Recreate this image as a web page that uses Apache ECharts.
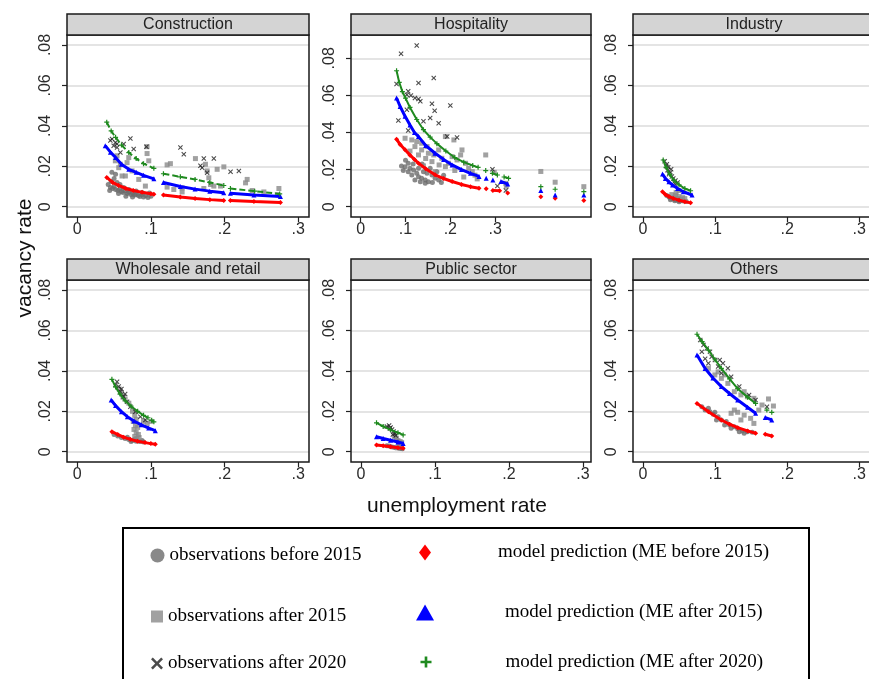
<!DOCTYPE html>
<html><head><meta charset="utf-8">
<script src="https://cdn.jsdelivr.net/npm/echarts@6.0.0/dist/echarts.min.js"></script>
<style>html,body{margin:0;padding:0;background:#fff}#chart{width:869px;height:679px}</style>
</head><body><div id="chart"></div>
<script>
// ---------------- DATA ----------------
const panelTitles = ['Construction', 'Hospitality', 'Industry', 'Wholesale and retail', 'Public sector', 'Others'];
const seriesNames = ['observations before 2015', 'observations after 2015', 'observations after 2020',
  'model prediction (ME before 2015)', 'model prediction (ME after 2015)', 'model prediction (ME after 2020)'];
const xTickValues = [0, 0.1, 0.2, 0.3];
const yTickValues = [0, 0.02, 0.04, 0.06, 0.08];
const xAxisTitle = 'unemployment rate';
const yAxisTitle = 'vacancy rate';

// Construction
const constrObsBefore2015 = [[0.042,0.0110],[0.045,0.0095],[0.048,0.0090],[0.050,0.0100],[0.052,0.0085],[0.055,0.0080],[0.058,0.0088],[0.060,0.0075],[0.062,0.0070],[0.065,0.0078],[0.068,0.0065],[0.070,0.0072],[0.073,0.0060],[0.075,0.0068],[0.078,0.0058],[0.080,0.0062],[0.083,0.0055],[0.085,0.0050],[0.088,0.0060],[0.090,0.0048],[0.093,0.0055],[0.096,0.0045],[0.100,0.0052],[0.046,0.0125],[0.050,0.0140],[0.054,0.0120],[0.047,0.0170],[0.052,0.0160],[0.058,0.0110],[0.063,0.0095],[0.070,0.0085],[0.080,0.0078],[0.088,0.0070],[0.044,0.0080],[0.056,0.0065],[0.066,0.0052],[0.075,0.0048],[0.098,0.0068]];
const constrObsAfter2015 = [[0.0948,0.0297],[0.0948,0.0263],[0.0971,0.0227],[0.0699,0.0243],[0.0676,0.0218],[0.0744,0.0177],[0.0563,0.0193],[0.0608,0.0152],[0.0653,0.0152],[0.122,0.0207],[0.1265,0.0213],[0.1605,0.0238],[0.1741,0.021],[0.1764,0.0177],[0.19,0.0185],[0.1991,0.0197],[0.1787,0.0143],[0.181,0.011],[0.1855,0.0102],[0.1946,0.0102],[0.2308,0.0135],[0.2286,0.0118],[0.2376,0.008],[0.2535,0.0073],[0.2739,0.009],[0.2717,0.006],[0.1424,0.0073],[0.1424,0.0093],[0.0835,0.0135],[0.0925,0.0102],[0.122,0.0097],[0.1311,0.0085],[0.1719,0.009],[0.0517,0.0227],[0.0585,0.021],[0.054,0.0252]];
const constrObsAfter2020 = [[0.0449,0.0327],[0.0494,0.0302],[0.0540,0.0310],[0.0472,0.0335],[0.0721,0.0338],[0.0766,0.0285],[0.0540,0.0293],[0.0585,0.0268],[0.1401,0.0293],[0.1447,0.0260],[0.1719,0.0238],[0.1855,0.0238],[0.1673,0.0202],[0.1696,0.0193],[0.2195,0.0177],[0.0517,0.0318],[0.0630,0.0310],[0.0939,0.0297],[0.1764,0.0168],[0.2082,0.0173]];
const constrPredBefore2015 = [[0.040,0.0145],[0.048,0.0120],[0.056,0.0105],[0.066,0.0090],[0.076,0.0080],[0.088,0.0071],[0.100,0.0064],[0.104,0.0062],'-',[0.117,0.0058],[0.140,0.0048],[0.160,0.0040],[0.180,0.0035],[0.199,0.0031],'-',[0.208,0.0031],[0.240,0.0026],[0.276,0.0021]];
const constrPredAfter2015 = [[0.038,0.0302],[0.045,0.0270],[0.052,0.0243],[0.060,0.0210],[0.070,0.0185],[0.080,0.0170],[0.090,0.0155],[0.104,0.0138],'-',[0.117,0.0120],[0.140,0.0100],[0.160,0.0087],[0.180,0.0077],[0.199,0.0069],'-',[0.208,0.0066],[0.240,0.0058],[0.276,0.0050]];
const constrPredAfter2020 = [[0.040,0.0418],[0.046,0.0375],[0.052,0.0343],[0.060,0.0305],[0.070,0.0268],[0.080,0.0238],[0.090,0.0213],[0.104,0.0190],'-',[0.117,0.0163],[0.140,0.0148],[0.160,0.0135],[0.180,0.0120],[0.199,0.0105],'-',[0.208,0.0090],[0.241,0.0077],[0.275,0.0063]];

// Hospitality
const hospObsBefore2015 = [[0.091,0.0220],[0.099,0.0216],[0.110,0.0207],[0.118,0.0198],[0.106,0.0189],[0.114,0.0171],[0.125,0.0180],[0.129,0.0162],[0.136,0.0153],[0.144,0.0144],[0.151,0.0135],[0.121,0.0144],[0.133,0.0135],[0.140,0.0189],[0.148,0.0180],[0.159,0.0171],[0.166,0.0153],[0.174,0.0144],[0.155,0.0207],[0.144,0.0126],[0.129,0.0207],[0.106,0.0234],[0.170,0.0189],[0.100,0.0250],[0.117,0.0230],[0.137,0.0230],[0.160,0.0130],[0.185,0.0170],[0.095,0.0195],[0.180,0.0130]];
const hospObsAfter2015 = [[0.099,0.0369],[0.114,0.0360],[0.125,0.0351],[0.136,0.0342],[0.148,0.0324],[0.174,0.0306],[0.189,0.0378],[0.208,0.0360],[0.226,0.0306],[0.215,0.0252],[0.234,0.0234],[0.241,0.0207],[0.249,0.0189],[0.196,0.0234],[0.181,0.0261],[0.163,0.0279],[0.151,0.0288],[0.136,0.0306],[0.121,0.0324],[0.129,0.0279],[0.159,0.0243],[0.204,0.0270],[0.223,0.0279],[0.189,0.0216],[0.166,0.0189],[0.279,0.0279],[0.402,0.0190],[0.434,0.0132],[0.498,0.0108],[0.324,0.0126],[0.298,0.0185],[0.255,0.0170],[0.230,0.0160],[0.210,0.0195],[0.145,0.0260],[0.110,0.0300],[0.140,0.0220],[0.175,0.0225],[0.260,0.0150],[0.325,0.0110]];
const hospObsAfter2020 = [[0.125,0.0869],[0.090,0.0825],[0.163,0.0694],[0.129,0.0667],[0.080,0.0661],[0.106,0.0622],[0.103,0.0604],[0.121,0.0586],[0.129,0.0580],[0.133,0.0568],[0.159,0.0555],[0.200,0.0546],[0.103,0.0523],[0.165,0.0517],[0.084,0.0465],[0.155,0.0478],[0.174,0.0450],[0.106,0.0411],[0.193,0.0378],[0.215,0.0373],[0.294,0.0202],[0.305,0.0112],[0.324,0.0087],[0.112,0.0600],[0.140,0.0460]];
const hospPredBefore2015 = [[0.080,0.0364],[0.088,0.0335],[0.099,0.0307],[0.110,0.0278],[0.120,0.0255],[0.129,0.0234],[0.145,0.0205],[0.166,0.0172],[0.185,0.0152],[0.204,0.0136],[0.225,0.0120],[0.245,0.0108],[0.264,0.0100],'-',[0.280,0.0097],'-',[0.295,0.0088],[0.310,0.0086],'-',[0.328,0.0074],'-',[0.402,0.0054],'-',[0.434,0.0045],'-',[0.498,0.0033]];
const hospPredAfter2015 = [[0.080,0.0586],[0.088,0.0540],[0.099,0.0487],[0.110,0.0440],[0.120,0.0400],[0.129,0.0378],[0.145,0.0330],[0.166,0.0288],[0.185,0.0255],[0.204,0.0225],[0.225,0.0200],[0.245,0.0180],[0.264,0.0163],'-',[0.280,0.0153],'-',[0.295,0.0144],'-',[0.313,0.0136],[0.328,0.0122],'-',[0.402,0.0087],'-',[0.434,0.0063],'-',[0.498,0.0063]];
const hospPredAfter2020 = [[0.080,0.0733],[0.086,0.0670],[0.093,0.0620],[0.100,0.0585],[0.110,0.0535],[0.125,0.0470],[0.140,0.0415],[0.155,0.0375],[0.170,0.0340],[0.190,0.0300],[0.210,0.0265],[0.230,0.0240],[0.250,0.0222],[0.262,0.0212],'-',[0.279,0.0195],'-',[0.294,0.0180],[0.305,0.0171],'-',[0.320,0.0160],[0.330,0.0153],'-',[0.402,0.0108],'-',[0.434,0.0094],'-',[0.498,0.0081]];

// Industry
const indObsBefore2015 = [[0.033,0.0055],[0.036,0.0048],[0.039,0.0042],[0.042,0.0038],[0.045,0.0035],[0.048,0.0032],[0.052,0.0030],[0.056,0.0028],[0.060,0.0026],[0.038,0.0035],[0.044,0.0030],[0.050,0.0025]];
const indObsAfter2015 = [[0.040,0.0060],[0.045,0.0055],[0.050,0.0050],[0.055,0.0045],[0.048,0.0040],[0.052,0.0035],[0.058,0.0040],[0.043,0.0045],[0.046,0.0070],[0.050,0.0080]];
const indObsAfter2020 = [[0.030,0.0225],[0.033,0.0210],[0.035,0.0195],[0.034,0.0180],[0.038,0.0170],[0.036,0.0160],[0.040,0.0150],[0.042,0.0140],[0.045,0.0130],[0.048,0.0120],[0.044,0.0115],[0.032,0.0200],[0.039,0.0185]];
const indPredBefore2015 = [[0.027,0.0074],[0.031,0.0060],[0.036,0.0050],[0.042,0.0041],[0.050,0.0032],[0.058,0.0025],[0.066,0.0019]];
const indPredAfter2015 = [[0.027,0.0162],[0.031,0.0140],[0.036,0.0123],[0.041,0.0107],[0.048,0.0090],[0.056,0.0074],[0.068,0.0058]];
const indPredAfter2020 = [[0.028,0.0231],[0.032,0.0195],[0.037,0.0160],[0.043,0.0130],[0.050,0.0108],[0.058,0.0090],[0.066,0.0079]];

// Wholesale and retail
const wrObsBefore2015 = [[0.050,0.0085],[0.055,0.0078],[0.060,0.0070],[0.065,0.0065],[0.070,0.0060],[0.075,0.0055],[0.080,0.0052],[0.085,0.0050],[0.090,0.0048],[0.068,0.0072],[0.078,0.0062],[0.088,0.0055],[0.073,0.0050]];
const wrObsAfter2015 = [[0.075,0.0200],[0.078,0.0180],[0.080,0.0160],[0.076,0.0150],[0.079,0.0130],[0.082,0.0120],[0.077,0.0110],[0.080,0.0095],[0.083,0.0085],[0.078,0.0075],[0.081,0.0065],[0.084,0.0070],[0.070,0.0240],[0.065,0.0260],[0.060,0.0290],[0.090,0.0150],[0.095,0.0140],[0.100,0.0150],[0.057,0.0310],[0.062,0.0270]];
const wrObsAfter2020 = [[0.054,0.0346],[0.0562,0.0322],[0.0585,0.0297],[0.063,0.0272],[0.0676,0.0247],[0.0721,0.0223],[0.0789,0.0198],[0.0857,0.0173],[0.0925,0.0157],[0.0517,0.0330],[0.060,0.0310],[0.065,0.0285]];
const wrPredBefore2015 = [[0.047,0.0099],[0.055,0.0085],[0.063,0.0072],[0.072,0.0061],[0.082,0.0052],[0.092,0.0045],[0.100,0.0040],[0.106,0.0037]];
const wrPredAfter2015 = [[0.046,0.0256],[0.052,0.0228],[0.060,0.0198],[0.068,0.0173],[0.077,0.0152],[0.087,0.0133],[0.097,0.0117],[0.106,0.0104]];
const wrPredAfter2020 = [[0.047,0.0358],[0.052,0.0320],[0.058,0.0285],[0.065,0.0252],[0.073,0.0225],[0.082,0.0200],[0.090,0.0180],[0.096,0.0168],'-',[0.101,0.0155],[0.104,0.0148]];

// Public sector
const pubObsBefore2015 = [[0.035,0.0030],[0.038,0.0028],[0.041,0.0025],[0.044,0.0022],[0.047,0.0020],[0.050,0.0018],[0.053,0.0016],[0.056,0.0015]];
const pubObsAfter2015 = [[0.045,0.0075],[0.048,0.0065],[0.050,0.0055],[0.053,0.0050],[0.055,0.0045],[0.051,0.0035],[0.054,0.0025],[0.049,0.0020]];
const pubObsAfter2020 = [[0.035,0.0125],[0.038,0.0130],[0.040,0.0120],[0.042,0.0110],[0.044,0.0100],[0.046,0.0090],[0.043,0.0085],[0.039,0.0115],[0.047,0.0080]];
const pubPredBefore2015 = [[0.021,0.0033],[0.030,0.0029],[0.040,0.0025],[0.050,0.0020],[0.057,0.0017]];
const pubPredAfter2015 = [[0.021,0.0074],[0.030,0.0065],[0.040,0.0057],[0.050,0.0048],[0.057,0.0041]];
const pubPredAfter2020 = [[0.021,0.0143],[0.030,0.0125],[0.040,0.0108],[0.050,0.0094],[0.057,0.0083]];

// Others
const othObsBefore2015 = [[0.0816,0.0223],[0.0862,0.0206],[0.0929,0.0198],[0.0974,0.0185],[0.1042,0.0173],[0.1087,0.0157],[0.1155,0.0149],[0.1200,0.0132],[0.1267,0.0124],[0.1313,0.0113],[0.1380,0.0103],[0.1448,0.0099],[0.1516,0.0096],[0.1019,0.0157],[0.1132,0.0132],[0.1222,0.0116],[0.1335,0.0099],[0.1403,0.0091],[0.0907,0.0215],[0.0997,0.0195]];
const othObsAfter2015 = [[0.0907,0.0413],[0.0997,0.0380],[0.1087,0.0363],[0.1177,0.0338],[0.1267,0.0297],[0.1358,0.0281],[0.1448,0.0272],[0.1538,0.0264],[0.1651,0.0231],[0.1741,0.0261],[0.1809,0.0226],[0.1606,0.0206],[0.1267,0.0206],[0.1313,0.0195],[0.1403,0.0181],[0.1493,0.0165],[0.1538,0.0140],[0.1358,0.0157],[0.1222,0.0190],[0.1132,0.0380],[0.1042,0.0395],[0.1403,0.0297]];
const othObsAfter2020 = [[0.0794,0.0553],[0.0839,0.0528],[0.0884,0.0511],[0.0816,0.0495],[0.0929,0.0495],[0.0952,0.0470],[0.0997,0.0454],[0.1064,0.0454],[0.1109,0.0437],[0.1042,0.0421],[0.1177,0.0413],[0.1087,0.0388],[0.1222,0.0371],[0.1335,0.0322],[0.1471,0.0281],[0.1561,0.0256],[0.1719,0.0223],[0.0862,0.0460],[0.0907,0.0437]];
const othPredBefore2015 = [[0.0749,0.0239],[0.0907,0.0198],[0.1087,0.0157],[0.1200,0.0136],[0.1313,0.0119],[0.1450,0.0103],[0.1562,0.0091],'-',[0.1696,0.0086],[0.1786,0.0078]];
const othPredAfter2015 = [[0.0749,0.0478],[0.0862,0.0412],[0.0970,0.0365],[0.1087,0.0322],[0.1200,0.0288],[0.1313,0.0256],[0.1450,0.0220],[0.1562,0.0190],'-',[0.1696,0.0169],[0.1786,0.0157]];
const othPredAfter2020 = [[0.0749,0.0581],[0.0820,0.0545],[0.0907,0.0503],[0.1000,0.0455],[0.1087,0.0412],[0.1200,0.0360],[0.1313,0.0312],[0.1450,0.0270],[0.1562,0.0239],'-',[0.1718,0.0206],'-',[0.1786,0.0195]];

// ---------------- ASSEMBLY ----------------
const panelData = [
  [constrObsBefore2015, constrObsAfter2015, constrObsAfter2020, constrPredBefore2015, constrPredAfter2015, constrPredAfter2020],
  [hospObsBefore2015, hospObsAfter2015, hospObsAfter2020, hospPredBefore2015, hospPredAfter2015, hospPredAfter2020],
  [indObsBefore2015, indObsAfter2015, indObsAfter2020, indPredBefore2015, indPredAfter2015, indPredAfter2020],
  [wrObsBefore2015, wrObsAfter2015, wrObsAfter2020, wrPredBefore2015, wrPredAfter2015, wrPredAfter2020],
  [pubObsBefore2015, pubObsAfter2015, pubObsAfter2020, pubPredBefore2015, pubPredAfter2015, pubPredAfter2020],
  [othObsBefore2015, othObsAfter2015, othObsAfter2020, othPredBefore2015, othPredAfter2015, othPredAfter2020]
];

// layout: the grid spans y in [0, .08] exactly; the frame is drawn around it
const layout = [
  {left:67,  width:242, frameTop:35,  frameBottom:217, gridTop:45,   gridHeight:161.7, xMin:-0.014,  xMax:0.3148, greenDash:true},
  {left:351, width:240, frameTop:35,  frameBottom:217, gridTop:58.3, gridHeight:148.4, xMin:-0.0217, xMax:0.514,  greenDash:false},
  {left:633, width:242, frameTop:35,  frameBottom:217, gridTop:45,   gridHeight:161.7, xMin:-0.0139, xMax:0.3135, greenDash:false},
  {left:67,  width:242, frameTop:280, frameBottom:462, gridTop:290,  gridHeight:161.7, xMin:-0.014,  xMax:0.3148, greenDash:false},
  {left:351, width:240, frameTop:280, frameBottom:462, gridTop:290,  gridHeight:161.7, xMin:-0.0135, xMax:0.311,  greenDash:false},
  {left:633, width:242, frameTop:280, frameBottom:462, gridTop:290,  gridHeight:161.7, xMin:-0.0139, xMax:0.3135, greenDash:false}
];

const X_PATH = 'path://M1.5,0L5,3.5L8.5,0L10,1.5L6.5,5L10,8.5L8.5,10L5,6.5L1.5,10L0,8.5L3.5,5L0,1.5Z';
const PLUS_PATH = 'path://M3.8,0H6.2V3.8H10V6.2H6.2V10H3.8V6.2H0V3.8H3.8Z';

const styles = [
  {kind:'scatter', symbol:'circle', size:5, color:'#6b6b6b'},
  {kind:'scatter', symbol:'rect', size:5, color:'#8a8a8a'},
  {kind:'scatter', symbol:X_PATH, size:5, color:'#1e1e1e'},
  {kind:'line', symbol:'diamond', size:5, color:'#ff0000', width:3},
  {kind:'line', symbol:'triangle', size:5, color:'#0000ff', width:3},
  {kind:'line', symbol:PLUS_PATH, size:5, color:'#1f8a1f', width:2}
];

const fmt = v => {
  if (Math.abs(v) < 1e-9) return '0';
  return v.toFixed(2).replace(/^0/, '').replace(/0$/, '');
};
const sansFont = 'Liberation Sans';
const serifFont = 'Liberation Serif';

const grids = layout.map(L => ({left:L.left, top:L.gridTop, width:L.width, height:L.gridHeight, show:false}));

const xAxes = layout.map((L, i) => ({
  type:'value', gridIndex:i, position:'bottom', offset:L.frameBottom - (L.gridTop + L.gridHeight),
  min:L.xMin, max:L.xMax, splitNumber:4,
  axisLine:{show:false, onZero:false},
  axisTick:{show:true, length:5, inside:false, customValues:xTickValues, lineStyle:{color:'#222', width:1.2}},
  axisLabel:{customValues:xTickValues, formatter:fmt, fontSize:16, fontFamily:sansFont, color:'#2b2b2b', margin:5},
  splitLine:{show:false}
}));
const yAxes = layout.map((L, i) => ({
  type:'value', gridIndex:i, position:'left', min:yTickValues[0], max:yTickValues[yTickValues.length - 1],
  interval:yTickValues[1] - yTickValues[0],
  axisLine:{show:false, onZero:false},
  axisTick:{show:true, length:5, inside:false, lineStyle:{color:'#222', width:1.2}},
  axisLabel:{formatter:fmt, rotate:90, fontSize:16, fontFamily:sansFont, color:'#2b2b2b', margin:13},
  splitLine:{show:true, lineStyle:{color:'#e4e4e4', width:2}}
}));

const series = [];
panelData.forEach((arrs, i) => {
  arrs.forEach((d, k) => {
    const st = styles[k];
    if (st.kind === 'scatter') {
      series.push({type:'scatter', name:seriesNames[k], xAxisIndex:i, yAxisIndex:i, data:d, clip:false,
        symbol:st.symbol, symbolSize:st.size, itemStyle:{color:st.color}, z:2 + k, silent:true});
    } else {
      series.push({type:'line', name:seriesNames[k], xAxisIndex:i, yAxisIndex:i, data:d, clip:false,
        symbol:st.symbol, symbolSize:st.size, showSymbol:true, showAllSymbol:true, connectNulls:false,
        itemStyle:{color:st.color},
        lineStyle:{color:st.color, width:st.width, type:(k === 5 && layout[i].greenDash) ? [6, 3] : 'solid'},
        z:6 + k, silent:true});
    }
  });
});

// frames, header strips, axis titles, legend frame
const graphic = [];
layout.forEach((L, i) => {
  graphic.push({type:'rect', shape:{x:L.left, y:L.frameTop, width:L.width, height:L.frameBottom - L.frameTop},
    style:{fill:'none', stroke:'#1a1a1a', lineWidth:1.5}, z:10, silent:true});
  graphic.push({type:'rect', shape:{x:L.left, y:L.frameTop - 21, width:L.width, height:21},
    style:{fill:'#d4d4d4', stroke:'#1a1a1a', lineWidth:1.5}, z:10, silent:true});
  graphic.push({type:'text', x:L.left + L.width / 2, y:L.frameTop - 10.5, z:11, silent:true,
    style:{text:panelTitles[i], font:'16px "' + sansFont + '"', fill:'#222', align:'center', verticalAlign:'middle'}});
});
graphic.push({type:'text', x:25, y:258, rotation:Math.PI / 2, z:10,
  style:{text:yAxisTitle, font:'21px "' + sansFont + '"', fill:'#111', align:'center', verticalAlign:'middle'}});
graphic.push({type:'text', x:457, y:506, z:10,
  style:{text:xAxisTitle, font:'21px "' + sansFont + '"', fill:'#111', align:'center', verticalAlign:'middle'}});
graphic.push({type:'rect', shape:{x:123, y:528, width:686, height:200},
  style:{fill:'none', stroke:'#000', lineWidth:2}, z:10});

const legendPos = [
  {left:150.5, top:546, icon:'circle', w:14, h:14, gap:0},
  {left:151, top:607, icon:'rect', w:12, h:12, gap:0},
  {left:151, top:654, icon:X_PATH, w:12, h:12, gap:0},
  {left:419, top:543, icon:'diamond', w:12, h:16, gap:62},
  {left:416, top:603, icon:'triangle', w:18, h:16, gap:66},
  {left:420.5, top:652.5, icon:PLUS_PATH, w:11, h:11, gap:69}
];
const legends = legendPos.map((P, k) => ({
  left:P.left, top:P.top, padding:0, itemWidth:P.w, itemHeight:P.h, selectedMode:false,
  data:[{name:seriesNames[k], icon:P.icon}],
  formatter: P.gap ? ('{g| }' + seriesNames[k]) : seriesNames[k],
  textStyle:{fontFamily:serifFont, fontSize:19, color:'#000', rich:{g:{width:P.gap}}}
}));

const chart = echarts.init(document.getElementById('chart'), null, {renderer:'canvas'});
chart.setOption({
  animation:false,
  backgroundColor:'#ffffff',
  grid:grids, xAxis:xAxes, yAxis:yAxes, series:series, graphic:graphic, legend:legends
});
</script></body></html>
